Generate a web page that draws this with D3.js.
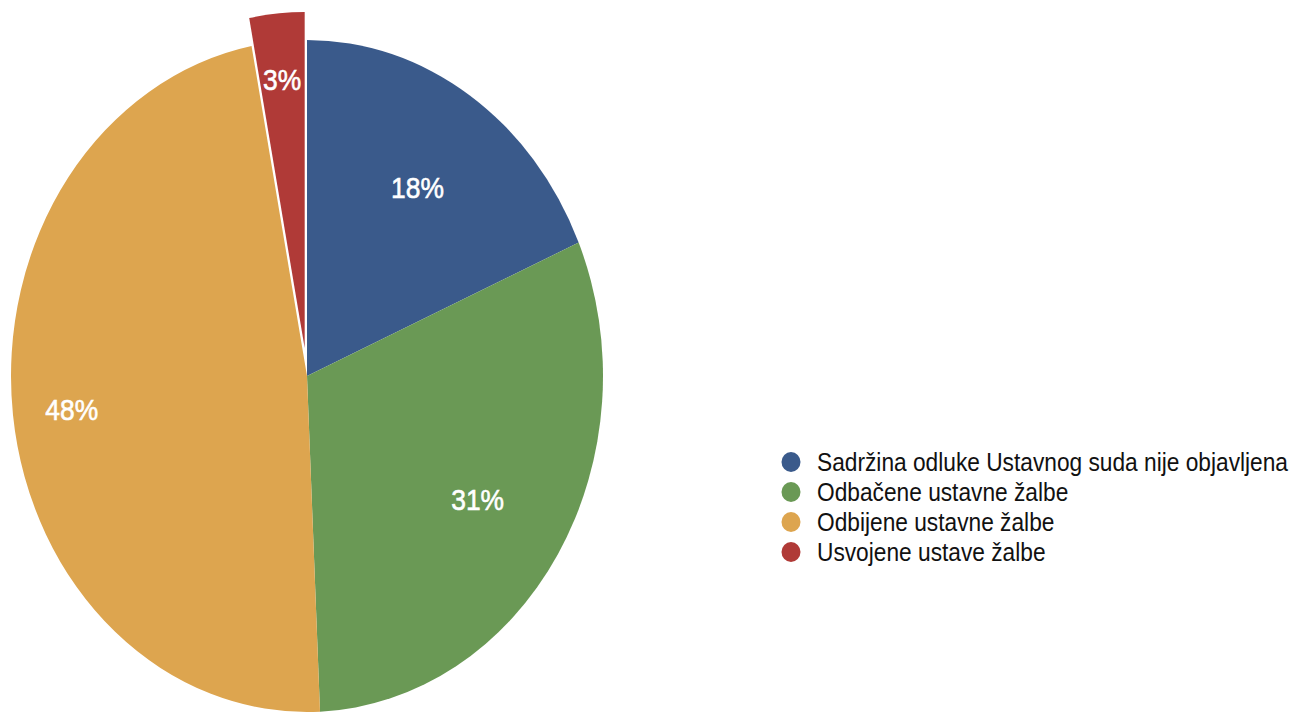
<!DOCTYPE html>
<html>
  <head>
    <meta charset="utf-8">
    <title>Ustavne žalbe</title>
    <style type="text/css">
      body { margin: 0; background: #fff; }
      svg { display: block; font-family: "Liberation Sans", Arial, Helvetica, sans-serif; }
      .pct { fill: #fff; stroke: #fff; stroke-width: 0.6; font-size: 30px; }
      .legend text { font-size: 25.8px; fill: #111; }
    </style>
  </head>
  <body>
    <div id="chart"></div>
    <script src="https://d3js.org/d3.v7.min.js"></script>
    <script>
    // data
    var categories = [
      "Sadržina odluke Ustavnog suda nije objavljena",
      "Odbačene ustavne žalbe",
      "Odbijene ustavne žalbe",
      "Usvojene ustave žalbe"
    ];
    var shares = [18.5, 30.8, 47.7, 3.0];
    var labels = ["18%", "31%", "48%", "3%"];
    var exploded = [false, false, false, true];
    var colors = ["#3a5a8b", "#6a9955", "#dda54f", "#b03a37"];

    var width = 1292, height = 713;
    var cx = 307, cy = 376,
        r = 336,
        sx = 296 / 336,   // the whole picture is squeezed horizontally
        explode = 28;

    var svg = d3.select("#chart").append("svg")
        .attr("width", width)
        .attr("height", height);

    var data = categories.map(function(c, i) {
      return {name: c, value: shares[i], label: labels[i], out: exploded[i], color: colors[i]};
    });

    var pie = d3.pie().sort(null).value(function(d) { return d.value; });
    var arcs = pie(data);
    var arc = d3.arc().innerRadius(0).outerRadius(r);

    var g = svg.append("g")
        .attr("transform", "translate(" + cx + "," + cy + ") scale(" + sx + ",1)");

    function offset(d) {
      if (!d.data.out) return [0, 0];
      var a = (d.startAngle + d.endAngle) / 2;
      return [Math.sin(a) * explode, -Math.cos(a) * explode];
    }

    g.selectAll("path")
      .data(arcs)
      .enter().append("path")
        .attr("fill", function(d) { return d.data.color; })
        .attr("transform", function(d) { var o = offset(d); return "translate(" + o[0] + "," + o[1] + ")"; })
        .attr("d", arc);

    // labels sit further out on the big slice and the pulled-out one
    function labelRatio(d) {
      var span = d.endAngle - d.startAngle;
      if (d.data.out) return 0.81;
      return span > Math.PI * 0.8 ? 0.8 : 0.68;
    }

    svg.selectAll("text.pct")
      .data(arcs)
      .enter().append("text")
        .attr("class", "pct")
        .attr("text-anchor", "middle")
        .attr("dy", "0.36em")
        .attr("transform", function(d) {
          var a = (d.startAngle + d.endAngle) / 2, o = offset(d), k = labelRatio(d);
          var x = cx + (o[0] + Math.sin(a) * r * k) * sx;
          var y = cy + o[1] - Math.cos(a) * r * k + 2;
          return "translate(" + x + "," + y + ") scale(" + sx + ",1)";
        })
        .text(function(d) { return d.data.label; });

    // legend
    var legend = svg.append("g")
        .attr("class", "legend")
        .attr("transform", "translate(791,462)");

    var item = legend.selectAll("g")
      .data(data)
      .enter().append("g")
        .attr("transform", function(d, i) { return "translate(0," + i * 30 + ")"; });

    item.append("ellipse")
        .attr("rx", 9.5)
        .attr("ry", 10)
        .attr("fill", function(d) { return d.color; });

    item.append("text")
        .attr("transform", "translate(26,0) scale(" + sx + ",1)")
        .attr("dy", "0.36em")
        .text(function(d) { return d.name; });
    </script>
  </body>
</html>
